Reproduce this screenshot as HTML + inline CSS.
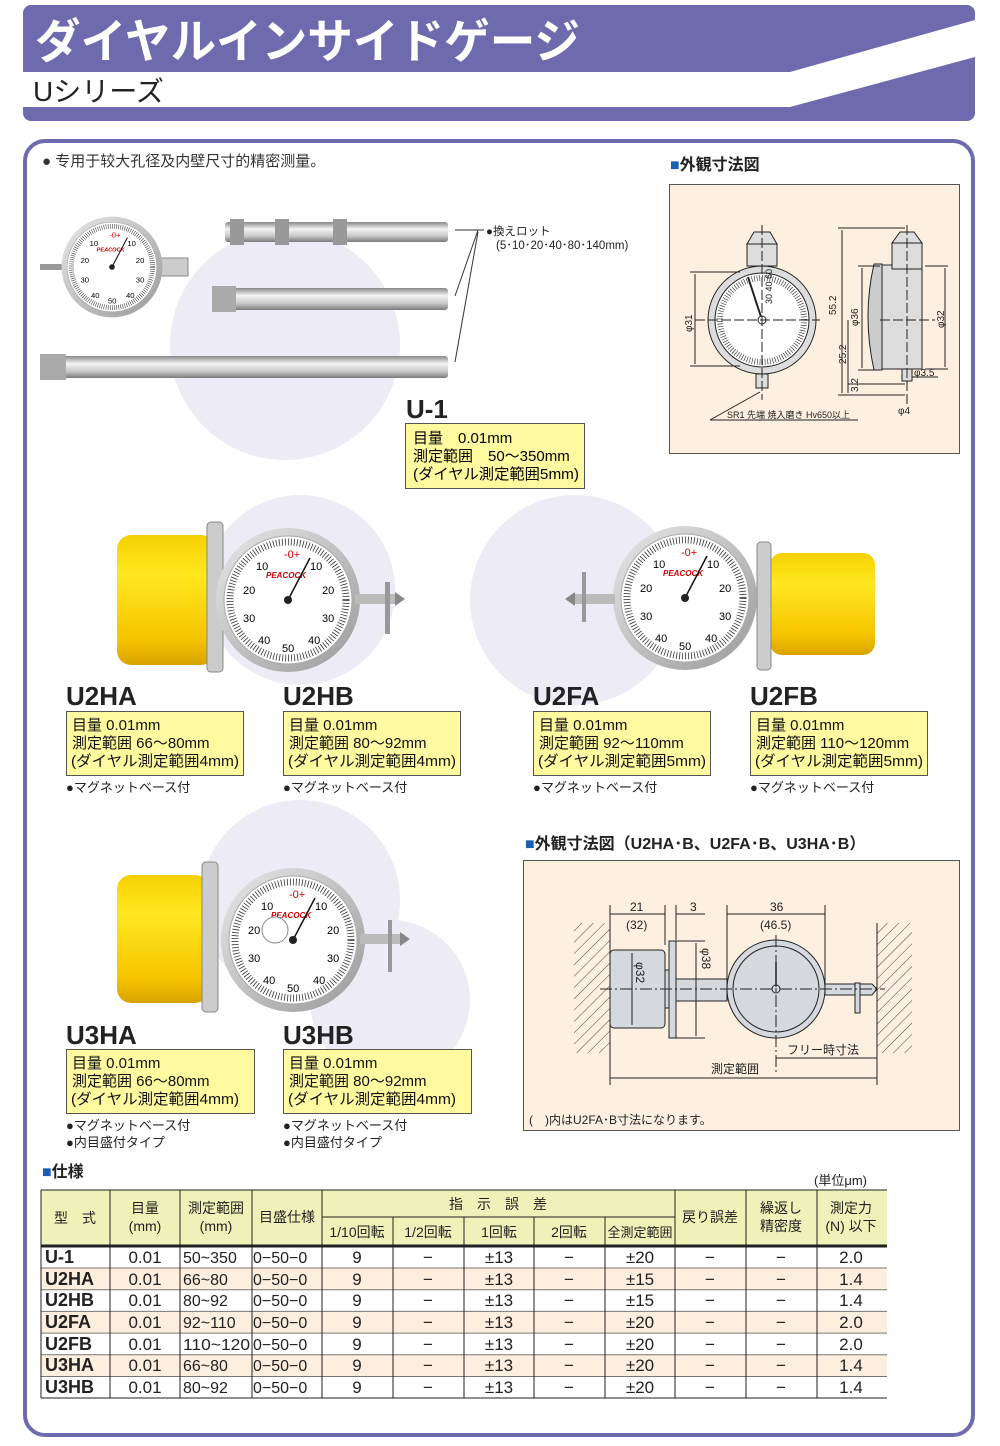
<!DOCTYPE html>
<html><head><meta charset="utf-8"><style>
html,body{margin:0;padding:0;background:#fff}
svg{display:block}
text{font-family:"Liberation Sans","Noto Sans CJK JP",sans-serif}
</style></head><body>
<svg width="1000" height="1446" viewBox="0 0 1000 1446" xmlns="http://www.w3.org/2000/svg">
<defs>
<linearGradient id="rod" x1="0" y1="0" x2="0" y2="1"><stop offset="0" stop-color="#888"/><stop offset=".35" stop-color="#f4f4f4"/><stop offset=".7" stop-color="#c8c8c8"/><stop offset="1" stop-color="#7a7a7a"/></linearGradient>
<linearGradient id="yel" x1="0" y1="0" x2="0" y2="1"><stop offset="0" stop-color="#f5d000"/><stop offset=".3" stop-color="#ffe820"/><stop offset=".8" stop-color="#f6c400"/><stop offset="1" stop-color="#d9a300"/></linearGradient>
<linearGradient id="bez" x1="0" y1="0" x2="1" y2="1"><stop offset="0" stop-color="#e8e8e8"/><stop offset="1" stop-color="#9a9a9a"/></linearGradient>
<pattern id="hatch" width="8" height="8" patternUnits="userSpaceOnUse" patternTransform="rotate(45)"><line x1="0" y1="0" x2="0" y2="8" stroke="#444" stroke-width="1"/></pattern>
<g id="dial">
<circle r="72" fill="url(#bez)"/>
<circle r="64" fill="#fff" stroke="#aaa"/>
<circle r="58" fill="none" stroke="#333" stroke-width="7" stroke-dasharray="0.8 2.2"/>
<text x="-4" y="-42" font-size="11" fill="#c00">-0+</text>
<text x="-32" y="-30" font-size="11">10</text><text x="22" y="-30" font-size="11">10</text>
<text x="-45" y="-6" font-size="11">20</text><text x="34" y="-6" font-size="11">20</text>
<text x="-45" y="22" font-size="11">30</text><text x="34" y="22" font-size="11">30</text>
<text x="-30" y="44" font-size="11">40</text><text x="20" y="44" font-size="11">40</text>
<text x="-6" y="52" font-size="11">50</text>
<text x="-22" y="-22" font-size="8" fill="#c00" font-weight="bold" font-style="italic">PEACOCK</text>
<line x1="0" y1="0" x2="22" y2="-42" stroke="#111" stroke-width="1.5"/>
<circle r="4" fill="#222"/>
</g>
</defs>

<!-- header -->
<rect x="23" y="5" width="952" height="116" rx="8" fill="#6e6aae"/>
<polygon points="23,72 790,72 975,20 975,57 790,107 23,107" fill="#fff"/>
<text x="35" y="58" font-size="47" font-weight="bold" fill="#fff" textLength="545" lengthAdjust="spacingAndGlyphs">ダイヤルインサイドゲージ</text>
<text x="33" y="101" font-size="28" fill="#222">Uシリーズ</text>

<!-- main frame -->
<rect x="25" y="141" width="948" height="1294" rx="20" fill="#fff" stroke="#6e6aae" stroke-width="4"/>

<!-- lavender circles -->
<circle cx="285" cy="345" r="115" fill="#ecebf6"/>
<circle cx="300" cy="590" r="95" fill="#ecebf6"/>
<circle cx="575" cy="600" r="105" fill="#ecebf6"/>
<circle cx="300" cy="900" r="100" fill="#ecebf6"/>
<circle cx="390" cy="1000" r="80" fill="#ecebf6"/>

<text x="42" y="166" font-size="15" fill="#333">● 专用于较大孔径及内壁尺寸的精密测量。</text>

<!-- U-1 product -->
<rect x="40" y="264" width="22" height="6" fill="#999"/>
<rect x="160" y="258" width="28" height="18" fill="#ccc" stroke="#888"/>
<g transform="translate(112,267) scale(0.7)"><use href="#dial"/></g>
<rect x="225" y="222" width="223" height="20" rx="3" fill="url(#rod)"/>
<rect x="230" y="219" width="14" height="26" fill="#999"/><rect x="275" y="219" width="14" height="26" fill="#999"/><rect x="333" y="219" width="14" height="26" fill="#999"/>
<rect x="212" y="288" width="236" height="22" rx="3" fill="url(#rod)"/>
<rect x="212" y="286" width="24" height="26" fill="#aaa"/>
<rect x="40" y="356" width="408" height="22" rx="3" fill="url(#rod)"/>
<rect x="40" y="354" width="26" height="26" fill="#aaa"/>
<polyline points="455,296 478,230 455,230" fill="none" stroke="#333"/>
<line x1="455" y1="362" x2="478" y2="232" stroke="#333"/>
<line x1="478" y1="230" x2="484" y2="230" stroke="#333"/>
<text x="486" y="235" font-size="11.5" fill="#222">●換えロット</text>
<text x="496" y="249" font-size="11.5" fill="#222">(5･10･20･40･80･140mm)</text>

<text x="406" y="418" font-size="26" font-weight="bold" fill="#222">U-1</text>
<rect x="405.5" y="423.5" width="179" height="65" fill="#fffaa0" stroke="#555"/>
<text x="413" y="443" font-size="15">目量　0.01mm</text>
<text x="413" y="461" font-size="15">測定範囲　50～350mm</text>
<text x="413" y="479" font-size="15" textLength="166" lengthAdjust="spacingAndGlyphs">(ダイヤル測定範囲5mm)</text>

<!-- outer dimension diagram 1 -->
<text x="670" y="170" font-size="16" font-weight="bold" fill="#222"><tspan fill="#1a5fb4">■</tspan>外観寸法図</text>
<rect x="669.5" y="184.5" width="290" height="269" fill="#fdf0e0" stroke="#555"/>
<g stroke="#222" fill="none" stroke-width="1">
<rect x="747" y="244" width="30" height="22" fill="#ddd"/>
<polygon points="747,244 777,244 770,232 754,232" fill="#ddd"/>
<circle cx="762" cy="320" r="54" fill="#ddd"/>
<circle cx="762" cy="320" r="47" fill="#fff"/>
<circle cx="762" cy="320" r="42" stroke-width="6" stroke-dasharray="0.6 2"/>
<rect x="756" y="374" width="12" height="14" fill="#ddd"/>
<line x1="762" y1="320" x2="748" y2="277" stroke-width="2"/>
<circle cx="762" cy="320" r="4" fill="#fff"/>
<line x1="695" y1="320" x2="820" y2="320" stroke-dasharray="10 3"/>
<line x1="762" y1="225" x2="762" y2="400" stroke-dasharray="10 3"/>
<line x1="690" y1="272" x2="740" y2="272"/><line x1="690" y1="366" x2="740" y2="366"/><line x1="695" y1="274" x2="695" y2="364"/>
<line x1="710" y1="420" x2="760" y2="392"/><line x1="710" y1="420" x2="858" y2="420"/>
<rect x="882" y="265" width="40" height="104" fill="#ddd"/>
<path d="M882,264 L874,264 Q862,316 874,370 L882,370 Z" fill="#ccc"/>
<rect x="892" y="243" width="30" height="26" fill="#ddd"/>
<polygon points="892,243 922,243 914,232 900,232" fill="#ddd"/>
<rect x="902" y="369" width="10" height="12" fill="#ddd"/>
<line x1="838" y1="228" x2="905" y2="228"/><line x1="838" y1="395" x2="905" y2="395"/><line x1="842" y1="230" x2="842" y2="393"/>
<line x1="858" y1="266" x2="880" y2="266"/><line x1="858" y1="370" x2="880" y2="370"/><line x1="862" y1="268" x2="862" y2="368"/>
<line x1="848" y1="320" x2="848" y2="393"/><line x1="848" y1="384" x2="905" y2="384"/>
<line x1="925" y1="266" x2="948" y2="266"/><line x1="925" y1="369" x2="948" y2="369"/><line x1="945" y1="268" x2="945" y2="367"/>
<line x1="880" y1="320" x2="935" y2="320" stroke-dasharray="10 3"/>
<line x1="907" y1="225" x2="907" y2="405" stroke-dasharray="10 3"/>
<line x1="912" y1="377" x2="938" y2="377"/>
</g>
<g font-size="10" fill="#222">
<text x="772" y="304" font-size="9" transform="rotate(-90 772 304)">30 40 60</text>
<text transform="translate(692,332) rotate(-90)">φ31</text>
<text transform="translate(836,315) rotate(-90)">55.2</text>
<text transform="translate(858,326) rotate(-90)">φ36</text>
<text transform="translate(846,364) rotate(-90)">25.2</text>
<text transform="translate(858,392) rotate(-90)">3.2</text>
<text transform="translate(944,328) rotate(-90)">φ32</text>
<text x="914" y="376">φ3.5</text>
<text x="898" y="414">φ4</text>
<text x="727" y="418" font-size="9">SR1 先端 焼入磨き Hv650以上</text>
</g>

<!-- U2H products -->
<rect x="117" y="535" width="98" height="130" rx="14" fill="url(#yel)"/>
<rect x="207" y="522" width="16" height="150" rx="4" fill="#ccc" stroke="#888"/>
<use href="#dial" x="288" y="600"/>
<rect x="355" y="594" width="40" height="10" fill="#bbb"/>
<rect x="385" y="582" width="5" height="52" fill="#999"/>
<polygon points="395,592 405,599 395,606" fill="#888"/>
<!-- U2F products -->
<rect x="770" y="553" width="105" height="102" rx="12" fill="url(#yel)"/>
<rect x="757" y="542" width="14" height="128" rx="4" fill="#ccc" stroke="#888"/>
<use href="#dial" x="685" y="598"/>
<rect x="575" y="594" width="40" height="10" fill="#bbb"/>
<rect x="582" y="572" width="4" height="50" fill="#999"/>
<polygon points="575,592 565,599 575,606" fill="#888"/>

<g font-size="26" font-weight="bold" fill="#222">
<text x="66" y="705">U2HA</text><text x="283" y="705">U2HB</text><text x="533" y="705">U2FA</text><text x="750" y="705">U2FB</text>
<text x="66" y="1044">U3HA</text><text x="283" y="1044">U3HB</text>
</g>
<g fill="#fffaa0" stroke="#555">
<rect x="66.5" y="711.5" width="177" height="64"/><rect x="283.5" y="711.5" width="177" height="64"/>
<rect x="533.5" y="711.5" width="177" height="64"/><rect x="750.5" y="711.5" width="177" height="64"/>
<rect x="66.5" y="1049.5" width="188" height="64"/><rect x="283.5" y="1049.5" width="188" height="64"/>
</g>
<g font-size="15" fill="#111">
<text x="72" y="730">目量 0.01mm</text><text x="72" y="748">測定範囲  66～80mm</text><text x="71" y="766" textLength="168" lengthAdjust="spacingAndGlyphs">(ダイヤル測定範囲4mm)</text>
<text x="289" y="730">目量 0.01mm</text><text x="289" y="748">測定範囲  80～92mm</text><text x="288" y="766" textLength="168" lengthAdjust="spacingAndGlyphs">(ダイヤル測定範囲4mm)</text>
<text x="539" y="730">目量 0.01mm</text><text x="539" y="748">測定範囲  92～110mm</text><text x="538" y="766" textLength="168" lengthAdjust="spacingAndGlyphs">(ダイヤル測定範囲5mm)</text>
<text x="756" y="730">目量 0.01mm</text><text x="756" y="748">測定範囲  110～120mm</text><text x="755" y="766" textLength="168" lengthAdjust="spacingAndGlyphs">(ダイヤル測定範囲5mm)</text>
<text x="72" y="1068">目量 0.01mm</text><text x="72" y="1086">測定範囲  66～80mm</text><text x="71" y="1104" textLength="168" lengthAdjust="spacingAndGlyphs">(ダイヤル測定範囲4mm)</text>
<text x="289" y="1068">目量 0.01mm</text><text x="289" y="1086">測定範囲  80～92mm</text><text x="288" y="1104" textLength="168" lengthAdjust="spacingAndGlyphs">(ダイヤル測定範囲4mm)</text>
</g>
<g font-size="13" fill="#222">
<text x="66" y="792">●マグネットベース付</text><text x="283" y="792">●マグネットベース付</text>
<text x="533" y="792">●マグネットベース付</text><text x="750" y="792">●マグネットベース付</text>
<text x="66" y="1130">●マグネットベース付</text><text x="66" y="1147">●内目盛付タイプ</text>
<text x="283" y="1130">●マグネットベース付</text><text x="283" y="1147">●内目盛付タイプ</text>
</g>

<!-- U3 product -->
<rect x="117" y="875" width="92" height="128" rx="14" fill="url(#yel)"/>
<rect x="202" y="862" width="16" height="150" rx="4" fill="#ccc" stroke="#888"/>
<use href="#dial" x="293" y="940"/>
<circle cx="275" cy="930" r="13" fill="#fff" stroke="#888"/>
<rect x="360" y="934" width="40" height="10" fill="#bbb"/>
<rect x="388" y="920" width="4" height="52" fill="#999"/>
<polygon points="400,932 410,939 400,946" fill="#888"/>

<!-- diagram 2 -->
<text x="525" y="849" font-size="16" font-weight="bold" fill="#222"><tspan fill="#1a5fb4">■</tspan>外観寸法図（U2HA･B、U2FA･B、U3HA･B）</text>
<rect x="523.5" y="860.5" width="436" height="270" fill="#fdf0e0" stroke="#555"/>
<rect x="574" y="923" width="36" height="130" fill="url(#hatch)"/>
<rect x="877" y="923" width="35" height="130" fill="url(#hatch)"/>
<g stroke="#222" fill="none">
<line x1="610" y1="923" x2="610" y2="1053"/><line x1="877" y1="923" x2="877" y2="1053"/>
<rect x="610" y="950" width="55" height="78" rx="4" fill="#d5d8dc"/>
<rect x="665" y="970" width="5" height="38" fill="#d5d8dc"/>
<rect x="669" y="941" width="7" height="97" fill="#d5d8dc"/>
<rect x="676" y="979" width="51" height="22" fill="#d5d8dc"/>
<circle cx="776" cy="989" r="49" fill="#d5d8dc"/>
<circle cx="776" cy="989" r="43"/>
<circle cx="776" cy="989" r="4"/>
<line x1="776" y1="985" x2="776" y2="962" stroke-width="1.5"/>
<rect x="825" y="984" width="30" height="11" fill="#d5d8dc"/>
<rect x="855" y="983" width="5" height="30" fill="#d5d8dc"/>
<polygon points="860,984 872,984 877,989 872,995 860,995" fill="#d5d8dc"/>
<line x1="600" y1="989" x2="885" y2="989" stroke-dasharray="12 3 2 3"/>
<line x1="776" y1="935" x2="776" y2="1072" stroke-dasharray="12 3 2 3"/>
<line x1="610" y1="905" x2="610" y2="923"/><line x1="665" y1="905" x2="665" y2="945"/><line x1="676" y1="905" x2="676" y2="940"/>
<line x1="727" y1="905" x2="727" y2="980"/><line x1="825" y1="905" x2="825" y2="984"/>
<line x1="610" y1="914" x2="665" y2="914"/><line x1="676" y1="914" x2="705" y2="914"/>
<line x1="727" y1="914" x2="825" y2="914"/>
<line x1="676" y1="941" x2="705" y2="941"/><line x1="676" y1="1038" x2="705" y2="1038"/><line x1="696" y1="943" x2="696" y2="1036"/>
<line x1="632" y1="953" x2="632" y2="1025"/>
<line x1="776" y1="1058" x2="877" y2="1058"/>
<line x1="610" y1="1078" x2="877" y2="1078"/><line x1="610" y1="1053" x2="610" y2="1085"/><line x1="877" y1="1053" x2="877" y2="1085"/>
</g>
<g font-size="12" fill="#222">
<text x="630" y="911">21</text><text x="626" y="929">(32)</text><text x="690" y="911">3</text>
<text x="770" y="911">36</text><text x="760" y="929">(46.5)</text>
<text transform="translate(702,948) rotate(90)">φ38</text>
<text transform="translate(636,962) rotate(90)">φ32</text>
<text x="787" y="1054">フリー時寸法</text>
<text x="711" y="1073">測定範囲</text>
<text x="529" y="1124">(　)内はU2FA･B寸法になります。</text>
</g>

<!-- spec table -->
<text x="42" y="1177" font-size="16" font-weight="bold" fill="#222"><tspan fill="#1a5fb4">■</tspan>仕様</text>
<text x="814" y="1185" font-size="13" fill="#222">(単位μm)</text>
<rect x="41" y="1190" width="846" height="56" fill="#eff2b8"/>
<g fill="#fdeedd">
<rect x="41" y="1268" width="846" height="21.7"/><rect x="41" y="1311.4" width="846" height="21.7"/><rect x="41" y="1354.8" width="846" height="21.7"/>
</g>
<g stroke="#222" stroke-width="1">
<line x1="41" y1="1190" x2="887" y2="1190"/>
<line x1="322" y1="1217" x2="675" y2="1217"/>
<line x1="41" y1="1246" x2="887" y2="1246" stroke-width="3"/>
<line x1="41" y1="1268" x2="887" y2="1268" stroke="#777"/><line x1="41" y1="1289.7" x2="887" y2="1289.7" stroke="#777"/>
<line x1="41" y1="1311.4" x2="887" y2="1311.4" stroke="#777"/><line x1="41" y1="1333.1" x2="887" y2="1333.1" stroke="#777"/>
<line x1="41" y1="1354.8" x2="887" y2="1354.8" stroke="#777"/><line x1="41" y1="1376.5" x2="887" y2="1376.5" stroke="#777"/>
<line x1="41" y1="1398" x2="887" y2="1398"/>
<line x1="41" y1="1190" x2="41" y2="1398"/>
<line x1="110" y1="1190" x2="110" y2="1398"/><line x1="180" y1="1190" x2="180" y2="1398"/><line x1="252" y1="1190" x2="252" y2="1398"/>
<line x1="322" y1="1190" x2="322" y2="1398"/><line x1="393" y1="1217" x2="393" y2="1398"/><line x1="464" y1="1217" x2="464" y2="1398"/>
<line x1="534" y1="1217" x2="534" y2="1398"/><line x1="605" y1="1217" x2="605" y2="1398"/><line x1="675" y1="1190" x2="675" y2="1398"/>
<line x1="746" y1="1190" x2="746" y2="1398"/><line x1="817" y1="1190" x2="817" y2="1398"/>
</g>
<g font-size="14" fill="#222" text-anchor="middle">
<text x="75" y="1223">型　式</text>
<text x="145" y="1213">目量</text><text x="145" y="1231">(mm)</text>
<text x="216" y="1213">測定範囲</text><text x="216" y="1231">(mm)</text>
<text x="287" y="1222">目盛仕様</text>
<text x="498" y="1209">指　示　誤　差</text>
<text x="357" y="1237">1/10回転</text><text x="428" y="1237">1/2回転</text><text x="499" y="1237">1回転</text><text x="569" y="1237">2回転</text><text x="640" y="1237" font-size="13">全測定範囲</text>
<text x="710" y="1222">戻り誤差</text>
<text x="781" y="1213">繰返し</text><text x="781" y="1231">精密度</text>
<text x="851" y="1213">測定力</text><text x="851" y="1231">(N) 以下</text>
</g>
<g font-size="17" fill="#222">
<g font-weight="bold" font-size="18">
<text x="45" y="1263">U-1</text><text x="45" y="1285">U2HA</text><text x="45" y="1306">U2HB</text><text x="45" y="1328">U2FA</text><text x="45" y="1350">U2FB</text><text x="45" y="1371">U3HA</text><text x="45" y="1393">U3HB</text>
</g>
<g text-anchor="middle">
<text x="145" y="1263">0.01</text><text x="145" y="1285">0.01</text><text x="145" y="1306">0.01</text><text x="145" y="1328">0.01</text><text x="145" y="1350">0.01</text><text x="145" y="1371">0.01</text><text x="145" y="1393">0.01</text>
</g>
<g font-size="16">
<text x="183" y="1263">50~350</text><text x="183" y="1285">66~80</text><text x="183" y="1306">80~92</text><text x="183" y="1328">92~110</text><text x="183" y="1350" textLength="67" lengthAdjust="spacingAndGlyphs">110~120</text><text x="183" y="1371">66~80</text><text x="183" y="1393">80~92</text>
<text x="253" y="1263">0−50−0</text><text x="253" y="1285">0−50−0</text><text x="253" y="1306">0−50−0</text><text x="253" y="1328">0−50−0</text><text x="253" y="1350">0−50−0</text><text x="253" y="1371">0−50−0</text><text x="253" y="1393">0−50−0</text>
</g>
<g text-anchor="middle">
<text x="357" y="1263">9</text><text x="357" y="1285">9</text><text x="357" y="1306">9</text><text x="357" y="1328">9</text><text x="357" y="1350">9</text><text x="357" y="1371">9</text><text x="357" y="1393">9</text>
<text x="428" y="1263">−</text><text x="428" y="1285">−</text><text x="428" y="1306">−</text><text x="428" y="1328">−</text><text x="428" y="1350">−</text><text x="428" y="1371">−</text><text x="428" y="1393">−</text>
<text x="499" y="1263">±13</text><text x="499" y="1285">±13</text><text x="499" y="1306">±13</text><text x="499" y="1328">±13</text><text x="499" y="1350">±13</text><text x="499" y="1371">±13</text><text x="499" y="1393">±13</text>
<text x="569" y="1263">−</text><text x="569" y="1285">−</text><text x="569" y="1306">−</text><text x="569" y="1328">−</text><text x="569" y="1350">−</text><text x="569" y="1371">−</text><text x="569" y="1393">−</text>
<text x="640" y="1263">±20</text><text x="640" y="1285">±15</text><text x="640" y="1306">±15</text><text x="640" y="1328">±20</text><text x="640" y="1350">±20</text><text x="640" y="1371">±20</text><text x="640" y="1393">±20</text>
<text x="710" y="1263">−</text><text x="710" y="1285">−</text><text x="710" y="1306">−</text><text x="710" y="1328">−</text><text x="710" y="1350">−</text><text x="710" y="1371">−</text><text x="710" y="1393">−</text>
<text x="781" y="1263">−</text><text x="781" y="1285">−</text><text x="781" y="1306">−</text><text x="781" y="1328">−</text><text x="781" y="1350">−</text><text x="781" y="1371">−</text><text x="781" y="1393">−</text>
<text x="851" y="1263">2.0</text><text x="851" y="1285">1.4</text><text x="851" y="1306">1.4</text><text x="851" y="1328">2.0</text><text x="851" y="1350">2.0</text><text x="851" y="1371">1.4</text><text x="851" y="1393">1.4</text>
</g>
</g>
</svg>
</body></html>
